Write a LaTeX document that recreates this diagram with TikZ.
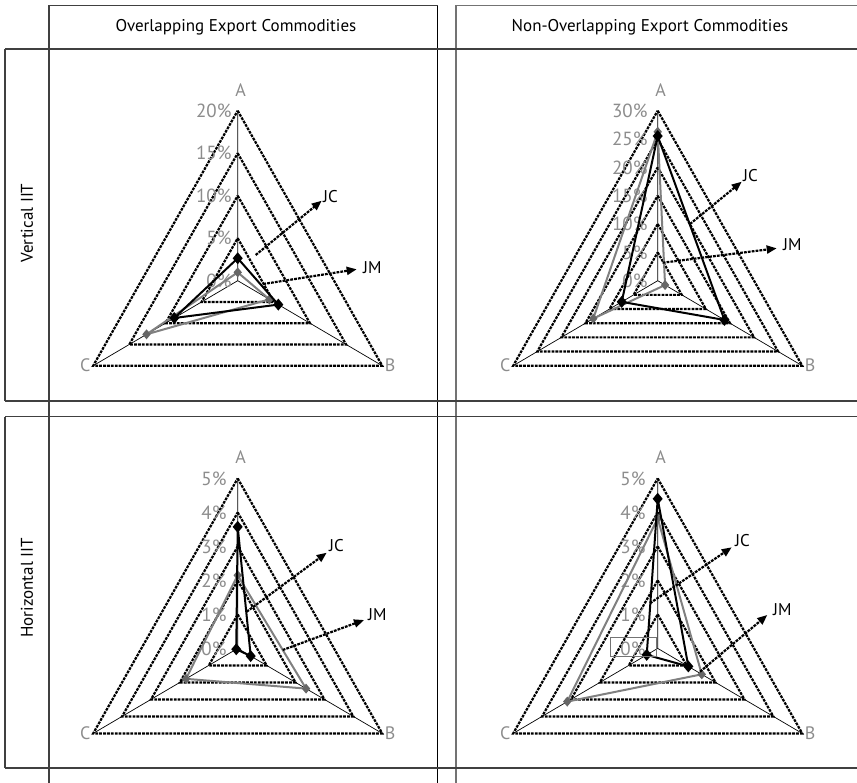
\documentclass[tikz,border=0pt]{standalone}
\usepackage{fontspec}
\setmainfont{PT Sans}
\usetikzlibrary{arrows.meta,calc}
\def\parsetrip#1,#2,#3\relax{\def\ta{#1}\def\tb{#2}\def\tc{#3}}
\tikzset{
 border/.style={draw=black!75,line width=1.1pt},
 ringline/.style={draw=black,line width=2.2pt,dash pattern=on 2.8pt off 1.1pt},
 axisline/.style={draw=black,line width=0.7pt},
 jcline/.style={draw=black,line width=2pt,line join=round},
 jmline/.style={draw=black!50,line width=2pt,line join=round},
 arr/.style={draw=black,line width=2.2pt,dash pattern=on 2.8pt off 1.1pt,-{Triangle[length=10pt,width=8pt]}},
 pct/.style={text=black!45,font=\fontsize{19}{19}\selectfont,inner sep=0pt},
 axlab/.style={text=black!45,font=\fontsize{18}{18}\selectfont,inner sep=0pt},
 serlab/.style={text=black,font=\fontsize{17}{17}\selectfont,inner sep=0pt},
 head/.style={text=black,font=\fontsize{17}{17}\selectfont,inner sep=0pt},
}
\newcommand\jcmark[2]{\fill[black] (#1,#2) +(0,-6) -- +(5,0) -- +(0,6) -- +(-5,0) -- cycle;}
\newcommand\jmmark[2]{\fill[black!60] (#1,#2) +(0,-5) -- +(4.2,0) -- +(0,5) -- +(-4.2,0) -- cycle;}
\newcommand\radar[8]{%
 \coordinate (#1-O) at (#2,#3);
 \coordinate (#1-A) at (#2,{#3-170});
 \coordinate (#1-B) at ({#2+144.5},{#3+85});
 \coordinate (#1-C) at ({#2-144.5},{#3+85});
 \foreach \k in {1,...,#4}{
   \pgfmathsetmacro\ff{\k/#4}
   \draw[ringline] (#2,{#3-170*\ff}) -- ({#2+144.5*\ff},{#3+85*\ff}) -- ({#2-144.5*\ff},{#3+85*\ff}) -- cycle;
 }
 \draw[axisline] (#1-O) -- (#1-A) (#1-O) -- (#1-B) (#1-O) -- (#1-C);
 \foreach \k in {0,...,#4}{
   \pgfmathsetmacro\ff{\k/#4}
   \pgfmathtruncatemacro\pv{\k*#5}
   \node[pct,anchor=east] (#1-p\k) at ({#2-#6},{#3-170*\ff}) {\pv\%};
 }
 \node[axlab] (#1-a) at ({#2+3},{#3-191}) {A};
 \node[axlab,anchor=west] (#1-b) at ({#2+147},{#3+85}) {B};
 \node[axlab,anchor=east] (#1-c) at ({#2-147},{#3+85}) {C};
 \parsetrip#8\relax
 \draw[jmline] (#2,{#3-170*\ta}) -- ({#2+144.5*\tb},{#3+85*\tb}) -- ({#2-144.5*\tc},{#3+85*\tc}) -- cycle;
 \jmmark{#2}{#3-170*\ta}\jmmark{#2+144.5*\tb}{#3+85*\tb}\jmmark{#2-144.5*\tc}{#3+85*\tc}
 \parsetrip#7\relax
 \draw[jcline] (#2,{#3-170*\ta}) -- ({#2+144.5*\tb},{#3+85*\tb}) -- ({#2-144.5*\tc},{#3+85*\tc}) -- cycle;
 \jcmark{#2}{#3-170*\ta}\jcmark{#2+144.5*\tb}{#3+85*\tb}\jcmark{#2-144.5*\tc}{#3+85*\tc}
}
\begin{document}
\begin{tikzpicture}[x=1pt,y=-1pt]
\useasboundingbox (0,0) rectangle (857,783);
% table frame
\draw[border] (49,783) -- (49,5.7) -- (437.7,5.7);
\draw[border,draw=black] (437.7,5.7) -- (437.7,783);
\draw[border,draw=black!55] (456,783) -- (456,5.7) -- (857,5.7);
\draw[border] (5,49) -- (857,49);
\draw[border] (5,401) -- (857,401);
\draw[border] (5,416.7) -- (857,416.7);
\draw[border] (5,768) -- (857,768);
\draw[border] (5,49) -- (5,401);
\draw[border] (5,416.7) -- (5,768);
% headers
\node[head] (h1) at (236,27) {Overlapping Export Commodities};
\node[head] (h2) at (650,27) {Non-Overlapping Export Commodities};
\node[head,rotate=90] (r1) at (27,223) {Vertical IIT};
\node[head,rotate=90] (r2) at (27,588) {Horizontal IIT};
% charts
\radar{tl}{237.7}{280.7}{4}{5}{6}{0.132,0.281,0.439}{0.049,0.219,0.631}
\radar{tr}{657.7}{280.7}{6}{5}{10}{0.851,0.462,0.249}{0.876,0.051,0.446}
\radar{bl}{237.7}{648.4}{5}{1}{11}{0.715,0.09,0.01}{0.43,0.473,0.358}
\radar{br}{657.7}{648.4}{5}{1}{12}{0.88,0.212,0.076}{0.765,0.305,0.626}
\draw[black!55,line width=0.7pt] (610.7,637.3) rectangle (656,656);
% series labels and arrows
\node[serlab,anchor=west] (tl-jc) at (323,196.7) {JC};
\node[serlab,anchor=west] (tl-jm) at (363,268) {JM};
\coordinate (tl-jcs) at (255.7,255); \coordinate (tl-jce) at (321.7,200.7);
\coordinate (tl-jms) at (263.3,284); \coordinate (tl-jme) at (356.7,269.3);
\draw[arr] (tl-jcs) -- (tl-jce);
\draw[arr] (tl-jms) -- (tl-jme);
\node[serlab,anchor=west] (tr-jc) at (743,176) {JC};
\node[serlab,anchor=west] (tr-jm) at (783,245) {JM};
\coordinate (tr-jcs) at (690,224); \coordinate (tr-jce) at (741.7,181.7);
\coordinate (tr-jms) at (662.7,262.7); \coordinate (tr-jme) at (776.7,248.3);
\draw[arr] (tr-jcs) -- (tr-jce);
\draw[arr] (tr-jms) -- (tr-jme);
\node[serlab,anchor=west] (bl-jc) at (329,546) {JC};
\node[serlab,anchor=west] (bl-jm) at (368,615) {JM};
\coordinate (bl-jcs) at (246.7,611.7); \coordinate (bl-jce) at (326.7,552.7);
\coordinate (bl-jms) at (282.7,650); \coordinate (bl-jme) at (364,620);
\draw[arr] (bl-jcs) -- (bl-jce);
\draw[arr] (bl-jms) -- (bl-jme);
\node[serlab,anchor=west] (br-jc) at (735,541) {JC};
\node[serlab,anchor=west] (br-jm) at (773,609.3) {JM};
\coordinate (br-jcs) at (650,603.3); \coordinate (br-jce) at (731.7,547.3);
\coordinate (br-jms) at (700,671.7); \coordinate (br-jme) at (767.3,615);
\draw[arr] (br-jcs) -- (br-jce);
\draw[arr] (br-jms) -- (br-jme);
\end{tikzpicture}
\end{document}
